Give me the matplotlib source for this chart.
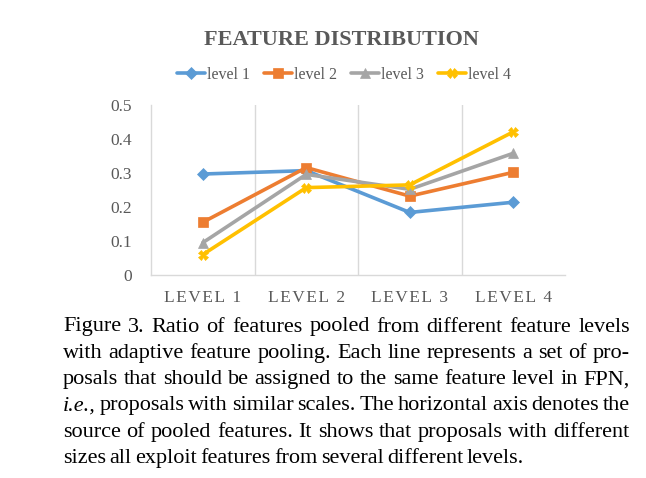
import matplotlib
matplotlib.use("Agg")
import matplotlib.pyplot as plt

categories = ["LEVEL 1", "LEVEL 2", "LEVEL 3", "LEVEL 4"]
series_names = ["level 1", "level 2", "level 3", "level 4"]
level1 = [0.297, 0.307, 0.184, 0.214]
level2 = [0.155, 0.316, 0.232, 0.302]
level3 = [0.095, 0.296, 0.252, 0.358]
level4 = [0.060, 0.257, 0.265, 0.421]
yticks = [0, 0.1, 0.2, 0.3, 0.4, 0.5]
ytick_labels = ["0", "0.1", "0.2", "0.3", "0.4", "0.5"]
title = "FEATURE DISTRIBUTION"
caption_lines = [
    "Figure 3. Ratio of features pooled from different feature levels",
    "with adaptive feature pooling.  Each line represents a set of pro-",
    "posals that should be assigned to the same feature level in FPN,",
    "i.e., proposals with similar scales. The horizontal axis denotes the",
    "source of pooled features.  It shows that proposals with different",
    "sizes all exploit features from several different levels.",
]

colors = ["#5B9BD5", "#ED7D31", "#A5A5A5", "#FFC000"]
markers = ["D", "s", "^", "X"]
msizes = [6.5, 7, 7.5, 7]

W, H = 646, 478
fig = plt.figure(figsize=(W / 100, H / 100), dpi=100)
serif = ["Liberation Serif", "DejaVu Serif"]
textgray = "#595959"

ax = fig.add_axes([151 / W, 1 - 275 / H, (565 - 151) / W, (275 - 105) / H])
data = [level1, level2, level3, level4]
x = list(range(len(categories)))
for vals, name, c, m, ms in zip(data, series_names, colors, markers, msizes):
    ax.plot(x, vals, color=c, lw=2.6, marker=m, ms=ms, label=name,
            markeredgewidth=0.5, solid_capstyle="round")

ax.set_xlim(-0.5, 3.5)
ax.set_ylim(0, 0.5)
ax.set_yticks(yticks)
ax.set_yticklabels(ytick_labels, fontfamily=serif, fontsize=12.5, color=textgray)
ax.set_xticks(x)
ax.set_xticklabels(["\u200a".join(list(c)) for c in categories],
                   fontfamily=serif, fontsize=12.5, color=textgray)
ax.tick_params(length=0)
ax.tick_params(axis="y", pad=14)
ax.tick_params(axis="x", pad=11)
for s in ["top", "right"]:
    ax.spines[s].set_visible(False)
for s in ["left", "bottom"]:
    ax.spines[s].set_color("#D9D9D9")
    ax.spines[s].set_linewidth(1.0)
for b in [0.5, 1.5, 2.5]:
    ax.axvline(b, color="#D9D9D9", lw=1.0, zorder=0)

fig.text(341 / W, 1 - 40 / H, title, ha="center", va="center",
         fontfamily=serif, fontweight="bold", fontsize=16, color=textgray)

leg = fig.legend(loc="center", bbox_to_anchor=(344 / W, 1 - 75 / H), ncol=4,
                 frameon=False, prop={"family": serif, "size": 11.5},
                 handlelength=1.75, handletextpad=0.1, columnspacing=0.9,
                 borderaxespad=0, borderpad=0)
for t in leg.get_texts():
    t.set_color(textgray)

# justified caption
fig.canvas.draw()
renderer = fig.canvas.get_renderer()
left, right = 63, 630
y0 = 327
lh = 26.3
fs = 16
for i, line in enumerate(caption_lines):
    words = line.split()
    ypix = y0 + i * lh
    items = []
    for w in words:
        style = "italic" if w == "i.e.," else "normal"
        t = fig.text(0, 0, w, fontfamily=serif, fontsize=fs, style=style)
        items.append((t, t.get_window_extent(renderer).width))
    total = sum(wd for _, wd in items)
    if i < len(caption_lines) - 1:
        gap = (right - left - total) / (len(items) - 1)
    else:
        gap = 3.5
    xpos = left
    for t, wid in items:
        t.set_position((xpos / W, 1 - ypix / H))
        t.set_va("center")
        t.set_color("black")
        xpos += wid + gap

fig.savefig("out.png", dpi=100)
